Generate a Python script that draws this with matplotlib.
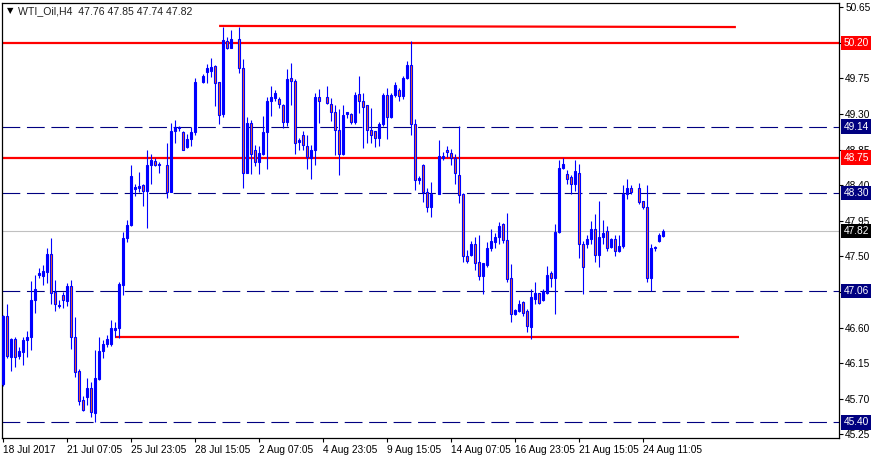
import numpy as np
import matplotlib
matplotlib.use("Agg")
import matplotlib.pyplot as plt
import matplotlib.transforms as mtransforms

nan = np.nan

# H4 candles (NaN = slot with no visible candle)
opens = np.array([
    45.88, 46.74, 46.23, 46.45, 46.24, 46.29, 46.44, 46.48, 46.95, 47.26,
    47.25, 47.30, 47.53, 47.05, 46.87, 47.01, 46.94, 47.13, 46.48, 46.05,
    45.68, 45.72, 45.84, 45.52, 45.95, 46.30, 46.39, 46.39, 46.57, 46.59,
    47.14, 47.73, 47.90, 48.35, 48.36, 48.40, 48.33, 48.66, 48.71, 48.66,
    nan, 48.66, 48.31, 49.08, 49.12, 49.07, 48.88, 48.99, 49.07, nan,
    49.71, 49.83, 49.85, 49.91, 49.70, 49.30, 50.22, 50.14, nan, 50.25,
    49.88, 48.56, 49.19, 48.85, 48.69, 48.80, 49.07, 49.46, 49.50, 49.49,
    49.42, 49.20, 49.76, 49.72, 48.95, 49.04, 48.90, 48.75, 48.85, 49.51,
    nan, 49.52, 49.43, 49.33, 49.10, 48.80, 49.30, 49.30, 49.20, 49.55,
    49.47, 49.41, 49.10, 49.08, 49.00, 49.18, 49.54, 49.26, 49.54, 49.60,
    49.53, 49.75, 49.92, 49.17, 48.47, 48.66, 48.32, 48.13, nan, 48.29,
    48.74, 48.85, 48.81, 48.75, 48.53, 48.29, 47.50, 47.52, 47.66, 47.43,
    47.25, 47.39, 47.60, 47.68, 47.75, 47.91, 47.71, 47.23, 46.77, 46.81,
    46.92, 46.81, 46.61, 46.96, 47.04, 46.95, 47.04, 47.29, 47.23, 47.81,
    48.62, 48.54, 48.50, 48.42, 48.56, 47.65, 47.65, 47.72, 47.84, 47.52,
    47.74, 47.82, 47.62, 47.72, 47.57, 47.63, 48.29, 48.37, nan, 48.37,
    48.20, 48.13, 47.23, 47.60, 47.70, 47.76,
])
highs = np.array([
    46.76, 46.90, 46.47, 46.48, 46.36, 46.48, 46.55, 47.19, 47.26, 47.35,
    47.39, 47.61, 47.73, 47.20, 46.95, 47.05, 47.16, 47.20, 46.73, 46.08,
    45.74, 45.96, 45.91, 46.32, 46.48, 46.44, 46.50, 46.69, 46.67, 47.18,
    47.81, 47.96, 48.65, 48.42, 48.57, 48.42, 48.84, 48.80, 48.74, 48.69,
    nan, 48.93, 49.19, 49.22, 49.15, 49.08, 49.05, 49.13, 49.75, nan,
    49.80, 49.93, 50.01, 49.925, 49.71, 50.40, 50.27, 50.36, nan, 50.40,
    49.99, 49.26, 49.22, 48.91, 48.89, 49.27, 49.52, 49.65, 49.61, 49.52,
    49.43, 49.87, 49.94, 49.74, 49.00, 49.08, 49.04, 48.91, 49.57, 49.62,
    nan, 49.65, 49.50, 49.42, 49.36, 49.42, 49.33, 49.31, 49.58, 49.78,
    49.56, 49.42, 49.38, 49.09, 49.20, 49.57, 49.63, 49.57, 49.71, 49.63,
    49.78, 49.97, 50.22, 49.24, 48.51, 48.67, 48.36, 48.44, nan, 48.97,
    48.82, 48.89, 48.86, 48.79, 49.15, 48.30, 47.58, 47.70, 47.74, 47.77,
    47.41, 47.68, 47.84, 47.79, 47.94, 47.92, 48.05, 47.40, 46.83, 46.95,
    46.93, 46.84, 47.09, 47.18, 47.04, 47.09, 47.38, 47.31, 47.91, 48.72,
    48.74, 48.59, 48.53, 48.72, 48.67, 47.70, 47.77, 47.95, 48.03, 48.20,
    47.96, 47.88, 47.73, 47.77, 47.77, 48.40, 48.48, 48.40, nan, 48.43,
    48.20, 48.40, 47.66, 47.63, 47.79, 47.85,
])
lows = np.array([
    45.86, 46.22, 46.05, 46.10, 46.20, 46.12, 46.23, 46.31, 46.78, 47.23,
    47.14, 47.16, 46.90, 46.81, 46.85, 46.85, 46.87, 46.33, 45.98, 45.62,
    45.55, 45.62, 45.47, 45.41, 45.94, 46.21, 46.36, 46.37, 46.48, 46.47,
    47.01, 47.68, 47.88, 48.26, 48.31, 48.14, 47.86, 48.42, 48.64, 48.55,
    nan, 48.24, 48.31, 48.93, 49.09, 48.84, 48.87, 48.89, 49.03, nan,
    49.69, 49.69, 49.77, 49.40, 49.17, 49.26, 50.12, 50.13, nan, 49.82,
    48.37, 48.56, 48.54, 48.64, 48.54, 48.78, 48.60, 49.28, 49.46, 49.38,
    49.12, 49.15, 49.41, 48.79, 48.84, 48.84, 48.60, 48.48, 48.66, 49.19,
    nan, 49.43, 49.21, 48.78, 48.53, 48.78, 49.25, 49.17, 49.18, 49.31,
    48.87, 48.93, 48.93, 48.88, 48.90, 49.15, 48.98, 49.25, 49.52, 49.47,
    49.49, 49.74, 49.03, 48.34, 48.41, 48.19, 48.06, 48.00, nan, 48.29,
    48.72, 48.76, 48.65, 48.41, 48.18, 47.43, 47.42, 47.51, 47.33, 47.20,
    47.03, 47.37, 47.57, 47.60, 47.66, 47.67, 47.17, 46.67, 46.76, 46.80,
    46.74, 46.54, 46.46, 46.90, 46.90, 46.94, 47.03, 47.11, 46.77, 47.80,
    48.61, 48.42, 48.29, 48.33, 47.48, 47.02, 47.61, 47.66, 47.43, 47.37,
    47.66, 47.57, 47.60, 47.51, 47.56, 47.60, 48.22, 48.29, nan, 48.16,
    48.10, 47.18, 47.06, 47.57, 47.68, 47.74,
])
closes = np.array([
    46.74, 46.24, 46.46, 46.23, 46.30, 46.44, 46.48, 46.95, 47.09, 47.29,
    47.31, 47.53, 47.04, 46.90, 46.89, 46.95, 47.13, 46.48, 46.04, 45.67,
    45.56, 45.83, 45.53, 45.96, 46.30, 46.39, 46.45, 46.60, 46.60, 47.15,
    47.73, 47.90, 48.51, 48.38, 48.39, 48.33, 48.66, 48.72, 48.66, 48.67,
    nan, 48.31, 49.08, 49.13, 49.13, 48.85, 48.98, 49.07, 49.70, nan,
    49.78, 49.88, 49.90, 49.69, 49.29, 50.23, 50.14, 50.25, nan, 49.88,
    48.56, 49.19, 48.80, 48.69, 48.81, 49.07, 49.46, 49.51, 49.57, 49.43,
    49.20, 49.74, 49.72, 48.93, 48.97, 48.91, 48.76, 48.85, 49.51, 49.47,
    nan, 49.44, 49.33, 49.10, 48.80, 49.29, 49.32, 49.20, 49.54, 49.47,
    49.39, 49.10, 49.04, 49.00, 49.18, 49.54, 49.26, 49.54, 49.67, 49.53,
    49.76, 49.92, 49.18, 48.47, 48.49, 48.32, 48.12, 48.29, nan, 48.77,
    48.77, 48.82, 48.75, 48.55, 48.28, 47.51, 47.44, 47.65, 47.42, 47.25,
    47.41, 47.60, 47.70, 47.75, 47.88, 47.71, 47.22, 46.77, 46.82, 46.90,
    46.79, 46.62, 46.99, 47.04, 46.91, 47.06, 47.27, 47.23, 47.81, 48.62,
    48.67, 48.48, 48.42, 48.58, 47.65, 47.36, 47.72, 47.84, 47.52, 47.74,
    47.80, 47.61, 47.72, 47.57, 47.63, 48.29, 48.37, 48.32, nan, 48.19,
    48.13, 47.23, 47.61, 47.62, 47.77, 47.82,
])

tick_bars = [0, 16, 32, 48, 64, 80, 96, 112, 128, 144, 160]
tick_texts = ["18 Jul 2017", "21 Jul 07:05", "25 Jul 23:05", "28 Jul 15:05",
              "2 Aug 07:05", "4 Aug 23:05", "9 Aug 15:05", "14 Aug 07:05",
              "16 Aug 23:05", "21 Aug 15:05", "24 Aug 11:05"]

price_ticks = [45.25, 45.70, 46.15, 46.60, 47.05, 47.50, 47.95, 48.40,
               48.85, 49.30, 49.75, 50.20, 50.65]
# tick labels that the price tags hide completely
hidden_ticks = [47.05, 50.20]

red_levels = [50.20, 48.75]
dashed_levels = [49.14, 48.30, 47.06, 45.40]
last_price = 47.82

# trendlines: (bar start, price start, bar end, price end)
top_line = (53.9, 50.414, 183.1, 50.40)
low_line = (27.9, 46.48, 184.0, 46.48)

BLUE = "#0000FF"
BEAR = "#F0602A"
NAVY = "#000080"
RED = "#FF0000"

plt.rcParams["font.family"] = ["Liberation Sans", "DejaVu Sans"]

fig = plt.figure(figsize=(8.79, 4.59), dpi=100)
ax = fig.add_axes([2 / 879, 21 / 459, 837 / 879, 435 / 459])
ax.set_xlim(-0.375, 208.875)
ax.set_ylim(45.203, 50.704)

x = np.arange(len(opens))
ok = ~np.isnan(opens)
up = ok & (closes >= opens)
dn = ok & (closes < opens)

# levels
for lvl in red_levels:
    ax.axhline(lvl, color=RED, lw=1.6, zorder=2)
for lvl in dashed_levels:
    ax.axhline(lvl, color=NAVY, lw=0.8, ls=(0, (16, 6)), zorder=2)
ax.axhline(last_price, color="#C0C0C0", lw=0.8, zorder=1)
for x0, y0, x1, y1 in (top_line, low_line):
    ax.plot([x0, x1], [y0, y1], color=RED, lw=1.6, zorder=2,
            solid_capstyle="butt")

# candles
ax.vlines(x[ok], lows[ok], highs[ok], color=BLUE, lw=0.8, zorder=3)
ax.bar(x[up], closes[up] - opens[up], bottom=opens[up], width=0.5,
       color=BLUE, edgecolor=BLUE, lw=0.8, zorder=4)
ax.bar(x[dn], closes[dn] - opens[dn], bottom=opens[dn], width=0.5,
       color=BEAR, edgecolor=BLUE, lw=0.8, zorder=4)

# axes styling
for sp in ax.spines.values():
    sp.set_color("black")
    sp.set_linewidth(0.9)
ax.yaxis.tick_right()
ax.set_yticks(price_ticks)
ax.set_yticklabels(["" if p in hidden_ticks else f"{p:.2f}"
                    for p in price_ticks])
ax.tick_params(axis="y", length=3, width=0.8, pad=1.5, labelsize=7.3,
               colors="black")
ax.set_xticks(tick_bars)
ax.set_xticklabels(tick_texts)
ax.tick_params(axis="x", length=3, width=0.8, pad=2, labelsize=7.3,
               colors="black")
for lab in ax.get_xticklabels():
    lab.set_horizontalalignment("left")

# price tags on the right
trans = mtransforms.blended_transform_factory(ax.transAxes, ax.transData)
tags = [(50.20, RED), (48.75, RED), (49.14, NAVY), (48.30, NAVY),
        (47.06, NAVY), (45.40, NAVY), (last_price, "black")]
for val, col in tags:
    ax.text(1.0055, val, f"{val:.2f}", transform=trans, ha="left",
            va="center", fontsize=7.3, color="white", zorder=6,
            bbox=dict(boxstyle="square,pad=0.22", fc=col, ec="none"))

# header
fig.text(6.5 / 879, 1 - 11 / 459, "\u25BC", fontsize=6, color="black",
         va="center", ha="left", family="DejaVu Sans")
fig.text(18 / 879, 1 - 11 / 459, "WTI_Oil,H4  47.76 47.85 47.74 47.82",
         fontsize=7.6, color="#202020", va="center", ha="left")

fig.savefig("out.png", dpi=100, facecolor="white")
plt.close(fig)
